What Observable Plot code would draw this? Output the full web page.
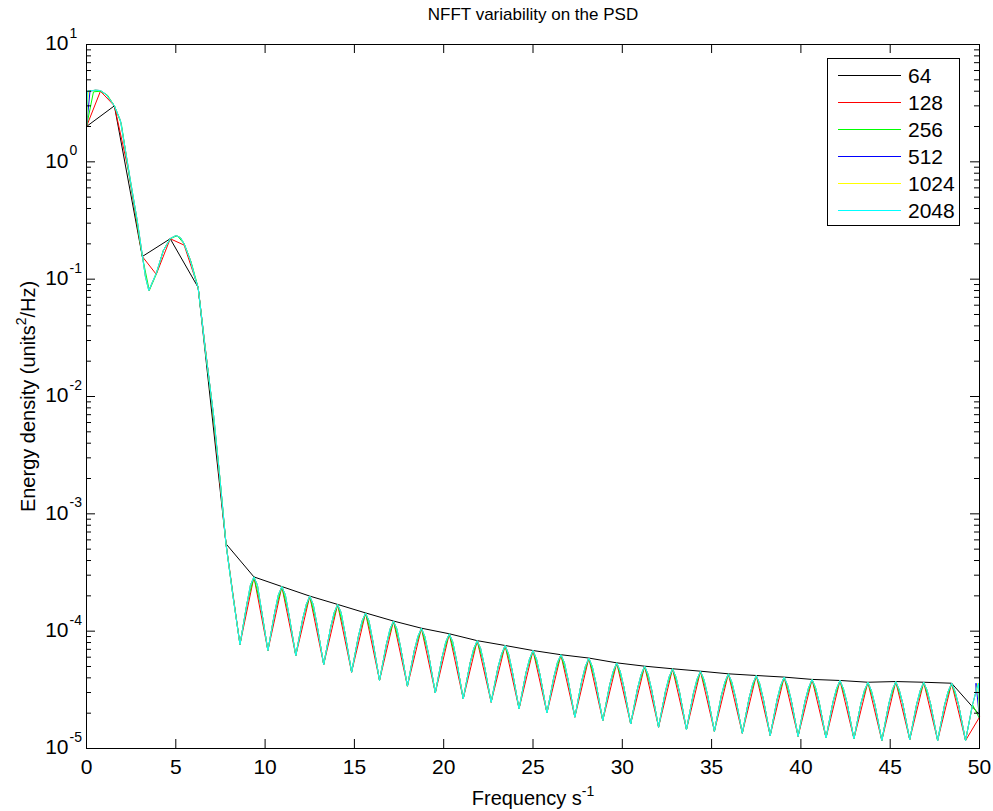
<!DOCTYPE html>
<html><head><meta charset="utf-8">
<script src="https://cdn.jsdelivr.net/npm/d3@7"></script>
<script src="https://cdn.jsdelivr.net/npm/@observablehq/plot@0.6"></script>
<style>
body{margin:0;background:#fff;}
#wrap{position:relative;width:993px;height:811px;}
</style></head><body><div id="wrap"></div>
<script>
// ---- series definitions ----
const nfftList = [64, 128, 256, 512, 1024, 2048];
const seriesColors = ["#000000", "#ff0000", "#00ff00", "#0000ff", "#ffff00", "#00ffff"];
const fs = 100; // sampling frequency -> Nyquist 50

// axis ticks
const xTicks = [0, 5, 10, 15, 20, 25, 30, 35, 40, 45, 50];
const yDecades = [1e-5, 1e-4, 1e-3, 1e-2, 1e-1, 1, 10];
const yMinorMultipliers = [2, 3, 4, 5, 6, 7, 8, 9];

// low-frequency part
const early64 = [2.0, 3.0, 0.156, 0.221, 0.085, 5.55e-4];               // f = 0 .. 7.8125 step 1.5625
const early128 = [2.0, 4.0, 3.0, 0.85, 0.156, 0.11, 0.221, 0.195, 0.085, 0.0085, 5.55e-4]; // step 0.78125
const early256 = [2.0, 3.95, 4.0, 3.7, 3.0, 2.1, 0.85, 0.38, 0.156, 0.08, 0.11, 0.175,
                  0.221, 0.235, 0.2, 0.14, 0.085, 0.026, 0.0085, 0.0024, 5.55e-4, 2.0e-4]; // step 0.390625
const dcValue = 2.0;
const nearDcValue = 4.0;
const earlyFineF = [0.5, 0.78, 1.1, 1.4, 1.5625, 1.9, 2.2, 2.46, 2.84, 3.125, 3.3, 3.49, 3.7, 3.906,
                    4.3, 4.6875, 5.0, 5.26, 5.47, 5.82, 6.1, 6.25, 6.66, 7.13, 7.5, 7.8125, 8.2];
const earlyFineV = [4.08, 4.05, 3.75, 3.25, 3.0, 2.25, 1.2, 0.69, 0.316, 0.16, 0.105, 0.08, 0.095, 0.112,
                    0.175, 0.222, 0.235, 0.226, 0.2, 0.144, 0.1, 0.085, 0.0247, 0.00667, 0.0018, 5.5e-4, 2.0e-4];

// side-lobe region; lobe peaks at 9.375 + k*1.5625, troughs 0.78125 earlier
const lobeTroughStart = 8.59375;
const lobeSpacing = 1.5625;
const peaks = [2.9e-4, 2.40e-4, 1.99e-4, 1.69e-4, 1.43e-4, 1.22e-4, 1.06e-4, 9.5e-5, 8.3e-5, 7.55e-5,
               6.84e-5, 6.3e-5, 5.9e-5, 5.37e-5, 5.03e-5, 4.78e-5, 4.56e-5, 4.33e-5, 4.19e-5, 4.06e-5,
               3.88e-5, 3.8e-5, 3.67e-5, 3.72e-5, 3.67e-5, 3.6e-5];
const troughs = [7.7e-5, 6.84e-5, 6.2e-5, 5.2e-5, 4.47e-5, 3.8e-5, 3.4e-5, 2.98e-5, 2.65e-5, 2.48e-5,
                 2.18e-5, 2.01e-5, 1.85e-5, 1.73e-5, 1.62e-5, 1.52e-5, 1.45e-5, 1.40e-5, 1.35e-5, 1.29e-5,
                 1.27e-5, 1.23e-5, 1.21e-5, 1.17e-5, 1.19e-5, 1.17e-5, 1.17e-5];
const rises = [1.72e-4, 1.47e-4, 1.28e-4, 1.08e-4, 9.2e-5, 7.8e-5, 6.9e-5, 6.1e-5, 5.4e-5, 4.97e-5,
               4.44e-5, 4.09e-5, 3.8e-5, 3.5e-5, 3.28e-5, 3.1e-5, 2.96e-5, 2.83e-5, 2.73e-5, 2.63e-5,
               2.55e-5, 2.49e-5, 2.42e-5, 2.4e-5, 2.4e-5, 2.36e-5, 2.36e-5];
const falls = [1.62e-4, 1.40e-4, 1.17e-4, 1.0e-4, 8.5e-5, 7.4e-5, 6.5e-5, 5.8e-5, 5.2e-5, 4.67e-5,
               4.26e-5, 3.93e-5, 3.67e-5, 3.39e-5, 3.18e-5, 3.03e-5, 2.9e-5, 2.78e-5, 2.67e-5, 2.61e-5,
               2.51e-5, 2.47e-5, 2.38e-5, 2.42e-5, 2.38e-5, 2.36e-5];
const nearPeaks = [2.47e-4, 2.04e-4, 1.69e-4, 1.44e-4, 1.22e-4, 1.04e-4, 9.0e-5, 8.1e-5, 7.1e-5, 6.4e-5,
                   5.8e-5, 5.4e-5, 5.0e-5, 4.56e-5, 4.28e-5, 4.06e-5, 3.88e-5, 3.68e-5, 3.56e-5, 3.45e-5,
                   3.3e-5, 3.23e-5, 3.12e-5, 3.16e-5, 3.12e-5, 3.06e-5, 3.06e-5];
const peakAt50 = 3.6e-5;
const nyquistValues = [1.94e-5, 1.85e-5, 1.8e-5, 1.8e-5, 1.8e-5, 1.8e-5];

// ---- build tables ----
function buildSeries(i) {
  const n = nfftList[i], step = fs / n, pts = [];
  const push = (f, v) => pts.push({f, v, s: n});
  if (n === 64) {
    early64.forEach((v, j) => push(j * step, v));
    peaks.forEach((v, k) => push(lobeTroughStart + lobeSpacing / 2 + k * lobeSpacing, v));
  } else if (n === 128) {
    early128.forEach((v, j) => push(j * step, v));
    troughs.forEach((v, k) => {
      const t = lobeTroughStart + k * lobeSpacing;
      push(t, v);
      if (k < peaks.length) push(t + lobeSpacing / 2, peaks[k]);
    });
  } else {
    const fine = n > 256;
    if (!fine) {
      early256.forEach((v, j) => push(j * step, v));
    } else {
      push(0, dcValue);
      push(step, nearDcValue);
      earlyFineF.forEach((f, j) => push(f, earlyFineV[j]));
    }
    troughs.forEach((v, k) => {
      const t = lobeTroughStart + k * lobeSpacing;
      push(t, v);
      push(t + lobeSpacing / 4, rises[k]);
      if (fine) push(t + lobeSpacing * 3 / 8, nearPeaks[k]);
      if (k < peaks.length) {
        push(t + lobeSpacing / 2, peaks[k]);
        if (fine) push(t + lobeSpacing * 5 / 8, nearPeaks[k]);
        push(t + lobeSpacing * 3 / 4, falls[k]);
      } else if (fine) {
        push(50 - step, peakAt50);
      }
    });
  }
  push(50, nyquistValues[i]);
  return pts;
}
const allSeries = nfftList.map((n, i) => buildSeries(i));

const yMinor = [];
yDecades.slice(0, -1).forEach(d => yMinorMultipliers.forEach(m => yMinor.push(m * d)));

const FONT = "'Liberation Sans', Arial, Helvetica, sans-serif";
const FS = 21;      // tick labels / legend
const FS_LABEL = 20; // axis labels
const FS_TITLE = 17; // title
const FS_SUP = 14;   // superscripts

const chart = Plot.plot({
  width: 993,
  height: 811,
  marginLeft: 86,
  marginRight: 14,
  marginTop: 44,
  marginBottom: 63,
  style: {fontFamily: FONT, fontSize: FS + "px", background: "white", overflow: "visible"},
  x: {domain: [0, 50], axis: null},
  y: {type: "log", domain: [1e-5, 10], axis: null},
  marks: [
    ...allSeries.map((data, i) => Plot.line(data, {x: "f", y: "v", stroke: seriesColors[i], strokeWidth: 1})),
    Plot.frame({stroke: "#000", strokeWidth: 1}),
    // inward ticks, bottom & top
    Plot.tickX(xTicks, {x: d => d, insetTop: 695, stroke: "#000"}),
    Plot.tickX(xTicks, {x: d => d, insetBottom: 695, stroke: "#000"}),
    // inward ticks, left & right
    Plot.tickY(yDecades, {y: d => d, insetRight: 884, stroke: "#000"}),
    Plot.tickY(yDecades, {y: d => d, insetLeft: 884, stroke: "#000"}),
    Plot.tickY(yMinor, {y: d => d, insetRight: 888, stroke: "#000"}),
    Plot.tickY(yMinor, {y: d => d, insetLeft: 888, stroke: "#000"}),
    // x tick labels
    Plot.text(xTicks, {x: d => d, text: d => String(d), frameAnchor: "bottom", textAnchor: "middle", lineAnchor: "middle", dy: 19, fontSize: FS}),
    // y tick labels 10^n
    Plot.text(yDecades, {y: d => d, text: () => "10", frameAnchor: "left", textAnchor: "end", lineAnchor: "middle", dx: -18, dy: -1, fontSize: FS}),
    Plot.text(yDecades, {y: d => d, text: d => String(Math.round(Math.log10(d))), frameAnchor: "left", textAnchor: "start", lineAnchor: "middle", dx: -17, dy: -11, fontSize: FS_SUP}),
    // title and axis labels
    Plot.text(["NFFT variability on the PSD"], {frameAnchor: "top", textAnchor: "middle", lineAnchor: "middle", dy: -30, fontSize: FS_TITLE}),
    Plot.text(["Frequency s"], {frameAnchor: "bottom", textAnchor: "middle", lineAnchor: "middle", dy: 50, fontSize: FS_LABEL}),
    Plot.text(["YLABEL"], {frameAnchor: "left", textAnchor: "middle", lineAnchor: "middle", rotate: -90, dx: -58, fontSize: FS_LABEL})
  ]
});

const svg = d3.select(chart);
svg.selectAll("text").each(function () {
  const el = d3.select(this);
  const t = this.textContent;
  if (t === "Frequency s") {
    el.append("tspan").attr("dy", -9).attr("font-size", FS_SUP).text("-1");
  } else if (t === "YLABEL") {
    el.text(null);
    el.append("tspan").text("Energy density (units");
    el.append("tspan").attr("dy", -9).attr("font-size", FS_SUP).text("2");
    el.append("tspan").attr("dy", 9).text("/Hz)");
  }
});

// legend box
const lg = svg.append("g").attr("font-family", FONT).attr("font-size", FS).attr("text-anchor", "start");
lg.append("rect").attr("x", 827.5).attr("y", 58.5).attr("width", 132).attr("height", 167)
  .attr("fill", "white").attr("stroke", "#000");
nfftList.forEach((n, i) => {
  const y = 75 + i * 27;
  lg.append("line").attr("x1", 838).attr("x2", 901).attr("y1", y + 0.5).attr("y2", y + 0.5)
    .attr("stroke", seriesColors[i]).attr("stroke-width", 1);
  lg.append("text").attr("x", 908).attr("y", y).attr("dy", "0.36em").attr("text-anchor", "start")
    .attr("fill", "#000").text(String(n));
});

document.getElementById("wrap").appendChild(chart);
</script>
</body></html>
